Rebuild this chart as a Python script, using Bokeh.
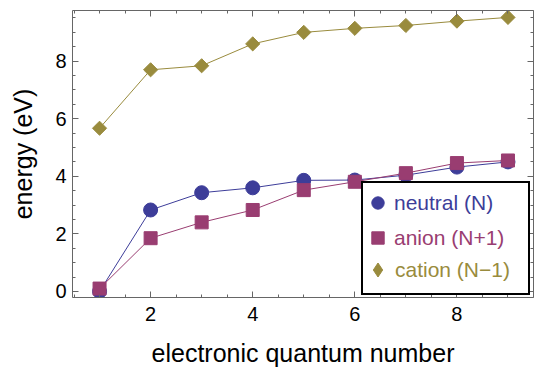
from bokeh.plotting import figure
from bokeh.models import (LinearAxis, SingleIntervalTicker, Legend, LegendItem, Range1d,
                          CustomJSTickFormatter)
from bokeh.embed import file_html
from bokeh.resources import INLINE
import numpy as np

# ---- data ----
n = [1, 2, 3, 4, 5, 6, 7, 8, 9]
neutral = [0.0, 2.83, 3.43, 3.6, 3.86, 3.87, 4.04, 4.32, 4.5]
anion = [0.1, 1.85, 2.4, 2.83, 3.52, 3.81, 4.11, 4.46, 4.55]
cation = [5.67, 7.7, 7.84, 8.6, 9.0, 9.14, 9.24, 9.39, 9.52]
labels = ["neutral (N)", "anion (N+1)", "cation (N\u22121)"]

c_neu = "#3D3D99"
c_ani = "#993D71"
c_cat = "#998B3D"
frame_c = "#666666"
FONT = "Liberation Sans"

p = figure(width=535, height=369, output_backend="svg", toolbar_location=None,
           x_range=Range1d(0.47, 9.5), y_range=Range1d(-0.21, 9.76),
           x_axis_label="electronic quantum number", y_axis_label="energy (eV)",
           min_border_left=72, min_border_right=2, min_border_top=10, min_border_bottom=0)
p.grid.visible = False
p.outline_line_color = None
p.background_fill_color = "white"

for ax in list(p.xaxis) + list(p.yaxis):
    ax.ticker = SingleIntervalTicker(interval=2, num_minor_ticks=4)
    ax.axis_line_color = frame_c
    ax.major_tick_line_color = frame_c
    ax.minor_tick_line_color = frame_c
    ax.major_tick_in = 6
    ax.major_tick_out = 0
    ax.minor_tick_in = 3
    ax.minor_tick_out = 0
    ax.major_label_text_font = FONT
    ax.major_label_text_font_size = "20px"
    ax.major_label_text_color = "black"
    ax.axis_label_text_font = FONT
    ax.axis_label_text_font_size = "25px"
    ax.axis_label_text_font_style = "normal"
    ax.axis_label_text_color = "black"

p.xaxis.major_label_standoff = 9
p.xaxis.axis_label_standoff = 15
p.yaxis.major_label_standoff = 6
p.yaxis.axis_label_standoff = 15

for side in ["above", "right"]:
    ax = LinearAxis(ticker=SingleIntervalTicker(interval=2, num_minor_ticks=4),
                    formatter=CustomJSTickFormatter(code="return ''"))
    ax.axis_line_color = frame_c
    ax.major_tick_line_color = frame_c
    ax.minor_tick_line_color = frame_c
    ax.major_tick_in = 6
    ax.major_tick_out = 0
    ax.minor_tick_in = 3
    ax.minor_tick_out = 0
    ax.major_label_text_font_size = "2px"
    ax.major_label_standoff = 0
    ax.axis_label = None
    p.add_layout(ax, side)

# ---- series ----
r_cl = p.line(n, cation, line_color=c_cat, line_width=1)
r_cs = p.scatter(n, cation, marker="square", angle=np.pi / 4, size=10,
                 fill_color=c_cat, line_color=c_cat)
r_nl = p.line(n, neutral, line_color=c_neu, line_width=1)
r_ns = p.scatter(n, neutral, marker="circle", size=14, fill_color=c_neu, line_color=c_neu)
r_al = p.line(n, anion, line_color=c_ani, line_width=1)
r_as = p.scatter(n, anion, marker="square", size=13, fill_color=c_ani, line_color=c_ani)

# legend-only glyph for the cation diamond (NaN point: nothing drawn in the plot)
r_cat_leg = p.scatter([float("nan")], [float("nan")], marker="diamond",
                      fill_color=c_cat, line_color=c_cat)

# ---- legend box (one blank item sized to the box) ----
r_dummy = p.scatter([float("nan")], [float("nan")], alpha=0)
box = Legend(items=[LegendItem(label=" ", renderers=[r_dummy])],
             location=(289, 2), padding=0, margin=0,
             glyph_width=165, glyph_height=110, label_standoff=0, label_width=0,
             label_text_font_size="1px",
             border_line_color="black", border_line_width=2, border_line_alpha=1,
             background_fill_color="white", background_fill_alpha=1)
p.add_layout(box, "center")

# (label, renderer, colour, x, bottom, glyph size, standoff)
rows = [(labels[0], r_ns, c_neu, 290, 79, 31, 1),
        (labels[1], r_as, c_ani, 290, 44, 31, 1),
        (labels[2], r_cat_leg, c_cat, 288, 10, 35, 0)]
for lab, rend, col, lx, bottom, gs, so in rows:
    lg = Legend(items=[LegendItem(label=lab, renderers=[rend])],
                location=(lx, bottom), padding=0, margin=0,
                glyph_width=gs, glyph_height=gs, label_standoff=so,
                label_text_font=FONT, label_text_font_size="21px",
                label_text_color=col,
                border_line_alpha=0, background_fill_alpha=0)
    p.add_layout(lg, "center")

open("out.html", "w").write(file_html(p, INLINE))
